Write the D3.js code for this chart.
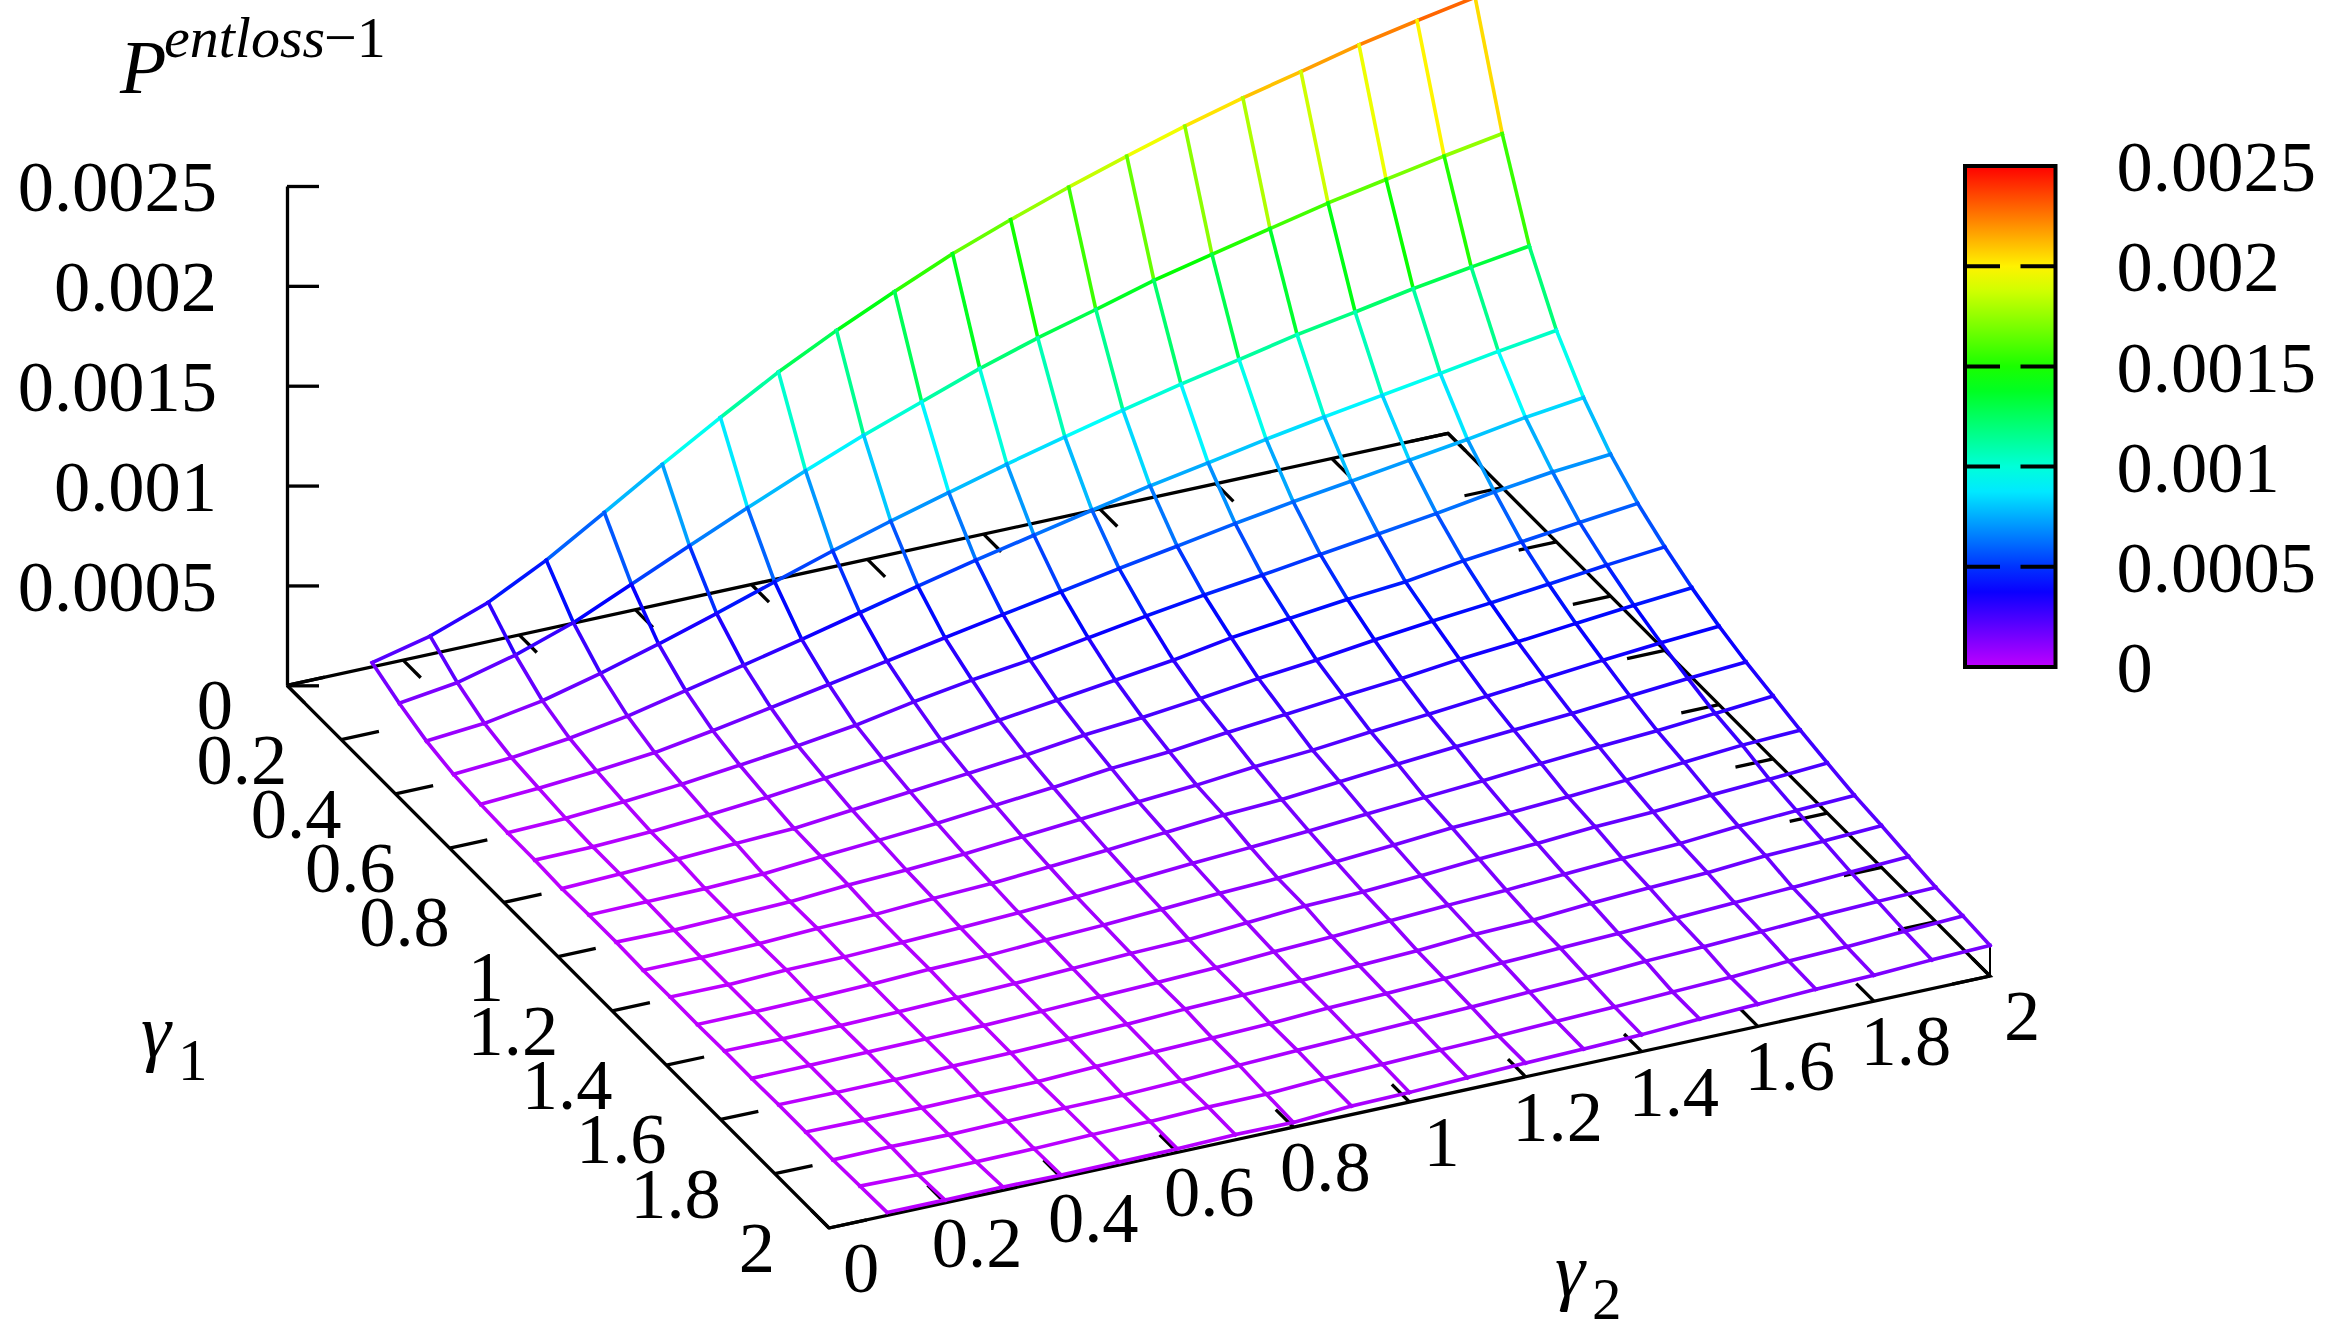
<!DOCTYPE html>
<html lang="en">
<head>
    <meta charset="UTF-8">
    <title>P entloss surface</title>
    <script src="https://cdn.jsdelivr.net/npm/d3@7"></script>
    <style>
        html, body{ margin: 0; padding: 0; background: #fff; }
        svg{ display: block; }
        text{ font-family: "Liberation Serif", serif; font-size: 72.5px; fill: #000; }
        .axis text{ font-family: "Liberation Serif", serif; font-size: 72.5px; }
        .axis line, .axis path{ stroke: #000; stroke-width: 3.3px; }
    </style>
</head>
<body>
<script>
    // grid of the surface
    var gamma1 = [0.1,0.2,0.3,0.4,0.5,0.6,0.7,0.8,0.9,1.0,1.1,1.2,1.3,1.4,1.5,1.6,1.7,1.8,1.9,2.0];
    var gamma2 = [0.1,0.2,0.3,0.4,0.5,0.6,0.7,0.8,0.9,1.0,1.1,1.2,1.3,1.4,1.5,1.6,1.7,1.8,1.9,2.0];

    // P values in units of 1e-6, one row per gamma1
    var surface = [
        [186,256,362,510,686,864,1035,1200,1345,1477,1603,1710,1810,1902,1989,2068,2136,2207,2265,2319],
        [119,159,234,333,462,592,719,841,956,1060,1164,1254,1333,1416,1483,1549,1614,1669,1723,1772],
        [66,91,141,215,299,389,484,576,662,742,821,894,965,1032,1092,1154,1204,1258,1303,1345],
        [35,55,89,137,201,266,332,402,472,539,601,663,722,774,829,878,923,969,1017,1059],
        [21,38,61,90,137,189,242,296,350,403,454,507,556,606,652,692,734,775,822,858],
        [14,23,43,68,100,134,174,228,274,311,359,405,447,484,524,563,603,648,685,710],
        [13,16,29,49,75,107,139,172,209,246,283,320,369,403,435,460,502,534,568,600],
        [6,16,28,43,55,84,112,141,170,207,232,264,301,330,367,399,427,458,490,518],
        [10,13,16,26,49,69,90,118,144,176,196,230,257,285,311,344,368,397,425,449],
        [10,7,15,23,43,55,72,96,120,145,165,194,214,243,268,295,321,349,373,393],
        [5,5,12,25,32,49,61,81,102,127,151,166,191,217,240,261,281,305,330,349],
        [7,5,16,18,28,38,50,67,88,108,125,144,166,186,206,230,250,267,291,315],
        [5,6,10,17,29,34,49,61,77,94,106,126,146,170,182,199,219,245,268,280],
        [8,6,9,15,22,31,43,55,62,82,103,111,128,149,164,184,196,217,233,251],
        [7,9,12,15,19,28,37,46,56,73,85,102,117,129,146,162,174,197,212,225],
        [11,9,10,15,18,25,35,48,56,65,77,88,107,115,136,151,163,185,195,209],
        [10,7,5,8,10,22,32,39,48,63,72,84,100,111,121,135,149,162,176,190],
        [7,10,6,11,14,15,24,39,50,59,69,78,90,100,118,127,141,155,165,172],
        [11,5,6,9,16,19,28,30,45,53,62,69,79,88,100,110,128,137,151,165],
        [15,14,16,13,15,18,26,24,43,48,59,69,76,85,100,111,123,130,144,153]
    ];

    var gammaTicks = [0,0.2,0.4,0.6,0.8,1,1.2,1.4,1.6,1.8,2];
    var zTicks = [0,0.0005,0.001,0.0015,0.002,0.0025];

    var width = 2329,
        height = 1339;
    var tickLen = 0.065;

    var svg = d3.select('body').append('svg')
                .attr('width', width)
                .attr('height', height);

    // oblique projection: each data axis moves the point along its own screen direction
    var originX = 287, originY = 685.3;
    var g1x = d3.scaleLinear().domain([0,2]).range([0,542]),
        g1y = d3.scaleLinear().domain([0,2]).range([0,542.7]),
        g2x = d3.scaleLinear().domain([0,2]).range([0,1161]),
        g2y = d3.scaleLinear().domain([0,2]).range([0,-252]),
        zPix = d3.scaleLinear().domain([0,0.0025]).range([0,499.3]);

    function px(a,b){ return originX + g1x(a) + g2x(b); }
    function py(a,b,z){ return originY + g1y(a) + g2y(b) - zPix(z || 0); }

    // palette: hue walks from purple down to red
    var hue = d3.scaleLinear().domain([0,0.0025]).range([285,0]);
    function color(z){ return d3.hsl(hue(z),1,0.5).formatHex(); }

    /*************** base frame ***************/
    var frame = svg.append('g').attr('stroke','#000').attr('stroke-width',3.3).attr('fill','none');
    var corners = [[0,0],[2,0],[2,2],[0,2],[0,0]];
    frame.append('path')
        .attr('stroke-linejoin','miter')
        .attr('d', d3.line().x(function(d){return px(d[0],d[1])}).y(function(d){return py(d[0],d[1])})(corners));

    // ticks on all four edges of the base
    var baseTicks = [];
    gammaTicks.forEach(function(t){
        baseTicks.push([t,0,t,tickLen]);        // gamma1 front-left
        baseTicks.push([t,2,t,2-tickLen]);      // gamma1 back-right
        baseTicks.push([2,t,2-tickLen,t]);      // gamma2 front-right
        baseTicks.push([0,t,tickLen,t]);        // gamma2 back-left
    });
    frame.selectAll('line.tick').data(baseTicks)
        .enter().append('line')
        .attr('class','tick')
        .attr('x1',function(d){return px(d[0],d[1])})
        .attr('y1',function(d){return py(d[0],d[1])})
        .attr('x2',function(d){return px(d[2],d[3])})
        .attr('y2',function(d){return py(d[2],d[3])});

    // short riser at the near right corner
    frame.append('line')
        .attr('stroke-width',2)
        .attr('x1',px(2,2)).attr('y1',py(2,2))
        .attr('x2',px(2,2)).attr('y2',py(2,2,surface[19][19]/1e6));

    /*************** z axis ***************/
    var zScale = d3.scaleLinear().domain([0,0.0025]).range([originY, originY - 499.3]);
    var zAxis = d3.axisLeft(zScale)
                    .tickValues(zTicks)
                    .tickSizeInner(-32)
                    .tickSizeOuter(0)
                    .tickPadding(70)
                    .tickFormat(function(d){ return d === 0 ? '' : String(d); });
    svg.append('g').attr('class','axis')
        .attr('transform','translate(' + originX + ',0)')
        .call(zAxis)
        .call(function(g){ g.selectAll('text').attr('dy','0.34em'); });

    /*************** surface ***************/
    var segments = [];
    gamma1.forEach(function(a,i){
        gamma2.forEach(function(b,j){
            var z = surface[i][j]/1e6;
            if(j < gamma2.length-1){
                var zr = surface[i][j+1]/1e6;
                segments.push({x1:px(a,b),y1:py(a,b,z),x2:px(a,gamma2[j+1]),y2:py(a,gamma2[j+1],zr),z:(z+zr)/2});
            }
            if(i < gamma1.length-1){
                var zd = surface[i+1][j]/1e6;
                segments.push({x1:px(a,b),y1:py(a,b,z),x2:px(gamma1[i+1],b),y2:py(gamma1[i+1],b,zd),z:(z+zd)/2});
            }
        });
    });
    svg.append('g').attr('stroke-width',3.6).attr('stroke-linecap','square')
        .selectAll('line').data(segments)
        .enter().append('line')
        .attr('x1',function(d){return d.x1})
        .attr('y1',function(d){return d.y1})
        .attr('x2',function(d){return d.x2})
        .attr('y2',function(d){return d.y2})
        .attr('stroke',function(d){return color(d.z)});

    /*************** base tick labels ***************/
    svg.append('g').selectAll('text').data(gammaTicks)
        .enter().append('text')
        .attr('text-anchor','end')
        .attr('x',function(d){return px(d,0) - 54})
        .attr('y',function(d){return py(d,0) + 44})
        .text(function(d){return d});
    svg.append('g').selectAll('text').data(gammaTicks)
        .enter().append('text')
        .attr('text-anchor','middle')
        .attr('x',function(d){return px(2,d) + 32})
        .attr('y',function(d){return py(2,d) + 64})
        .text(function(d){return d});

    /*************** titles ***************/
    var title = svg.append('g');
    title.append('text').attr('x',120).attr('y',93).style('font-size','76px').style('font-style','italic').text('P');
    title.append('text').attr('x',164).attr('y',57).style('font-size','58px').style('font-style','italic').text('entloss');
    title.append('text').attr('x',324).attr('y',57).style('font-size','58px').text('\u22121');

    function gammaLabel(x, y, sub){
        svg.append('text').attr('x',x).attr('y',y).style('font-size','76px').style('font-style','italic').text('\u03b3');
        svg.append('text').attr('x',x+37).attr('y',y+23).style('font-size','59px').text(sub);
    }
    gammaLabel(141,1057,'1');
    gammaLabel(1555,1296,'2');

    /*************** colour box ***************/
    var cbLeft = 1965, cbRight = 2055.5;
    var cbScale = d3.scaleLinear().domain([0,0.0025]).range([667,166]);

    var grad = svg.append('defs').append('linearGradient')
                    .attr('id','palette')
                    .attr('x1',0).attr('y1',1).attr('x2',0).attr('y2',0);
    grad.selectAll('stop').data(d3.range(0,1.001,0.05))
        .enter().append('stop')
        .attr('offset',function(d){return d})
        .attr('stop-color',function(d){return color(d*0.0025)});

    svg.append('rect')
        .attr('x',cbLeft).attr('y',cbScale(0.0025))
        .attr('width',cbRight-cbLeft).attr('height',cbScale(0)-cbScale(0.0025))
        .attr('fill','url(#palette)')
        .attr('stroke','#000').attr('stroke-width',4);

    var cbInner = zTicks.slice(1,5);
    var cbTicks = svg.append('g').attr('stroke','#000').attr('stroke-width',4);
    cbTicks.selectAll('line.l').data(cbInner).enter().append('line')
        .attr('class','l')
        .attr('x1',cbLeft).attr('x2',cbLeft+35)
        .attr('y1',function(d){return cbScale(d)}).attr('y2',function(d){return cbScale(d)});
    cbTicks.selectAll('line.r').data(cbInner).enter().append('line')
        .attr('class','r')
        .attr('x1',cbRight-35).attr('x2',cbRight)
        .attr('y1',function(d){return cbScale(d)}).attr('y2',function(d){return cbScale(d)});

    var cbAxis = d3.axisRight(cbScale)
                    .tickValues(zTicks)
                    .tickSize(0)
                    .tickPadding(61)
                    .tickFormat(function(d){ return String(d); });
    svg.append('g').attr('class','axis')
        .attr('transform','translate(' + cbRight + ',0)')
        .call(cbAxis)
        .call(function(g){
            g.select('.domain').remove();
            g.selectAll('text').attr('dy','0.34em');
        });
</script>
</body>
</html>
